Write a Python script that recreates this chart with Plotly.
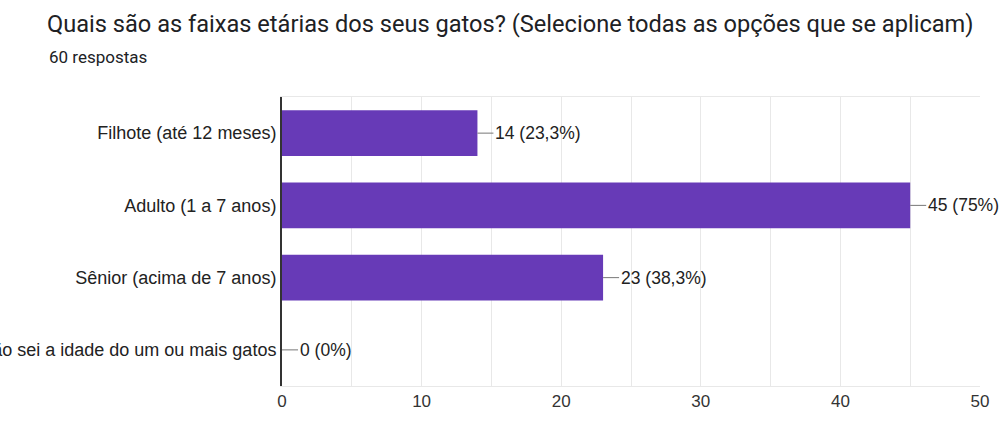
import plotly.graph_objects as go

title = "Quais são as faixas etárias dos seus gatos? (Selecione todas as opções que se aplicam)"
subtitle = "60 respostas"
total = 60
categories = [
    "Filhote (até 12 meses)",
    "Adulto (1 a 7 anos)",
    "Sênior (acima de 7 anos)",
    "Não sei a idade do um ou mais gatos",
]
values = [14, 45, 23, 0]
tick_vals = [0, 10, 20, 30, 40, 50]


def pct(v):
    p = round(v / total * 100, 1)
    s = ("%.1f" % p).rstrip("0").rstrip(".")
    return s.replace(".", ",") + "%"


labels = [f"{v} ({pct(v)})" for v in values]

fig = go.Figure()
fig.add_trace(go.Bar(
    x=values, y=categories, orientation="h",
    marker=dict(color="#673ab7", line=dict(width=0)),
    width=0.63, hoverinfo="skip",
))

for c, v, lab in zip(categories, values, labels):
    fig.add_shape(type="line", xref="x", yref="y", xsizemode="pixel",
                  xanchor=v, x0=0, x1=16, y0=c, y1=c,
                  line=dict(color="#777777", width=1))
    fig.add_annotation(x=v, y=c, xref="x", yref="y", text=lab, showarrow=False,
                       xanchor="left", xshift=16,
                       font=dict(family="Liberation Sans, Arial", size=17.5, color="#222222"))

fig.update_layout(
    width=1001, height=423,
    margin=dict(l=282, r=20, t=97, b=26),
    paper_bgcolor="white", plot_bgcolor="white",
    showlegend=False,
    title=dict(text=title, xref="container", yref="container", x=47 / 1001,
               y=1 - 24 / 423, xanchor="left", yanchor="middle",
               font=dict(family="Roboto", size=23.6, color="#202124")),
    xaxis=dict(range=[0, 50], tickvals=tick_vals, showgrid=True, gridcolor="#e8e8e8",
               minor=dict(dtick=5, showgrid=True, gridcolor="#e8e8e8"),
               zeroline=False, showline=True, linecolor="#e8e8e8", mirror=True,
               ticks="", tickfont=dict(family="Liberation Sans, Arial", size=17, color="#333333"),
               fixedrange=True),
    yaxis=dict(categoryorder="array", categoryarray=categories, autorange="reversed",
               showline=True, linecolor="#333333", linewidth=2, showgrid=False,
               ticks="", automargin=False,
               tickfont=dict(family="Liberation Sans, Arial", size=18, color="#222222"),
               fixedrange=True),
)
fig.add_annotation(x=(47 - 282) / 699, y=1 + (97 - 55) / 300, xref="paper", yref="paper",
                   text=subtitle, showarrow=False, xanchor="left", yanchor="middle",
                   font=dict(family="Roboto", size=17, color="#202124"))

fig.write_html("out.html")
